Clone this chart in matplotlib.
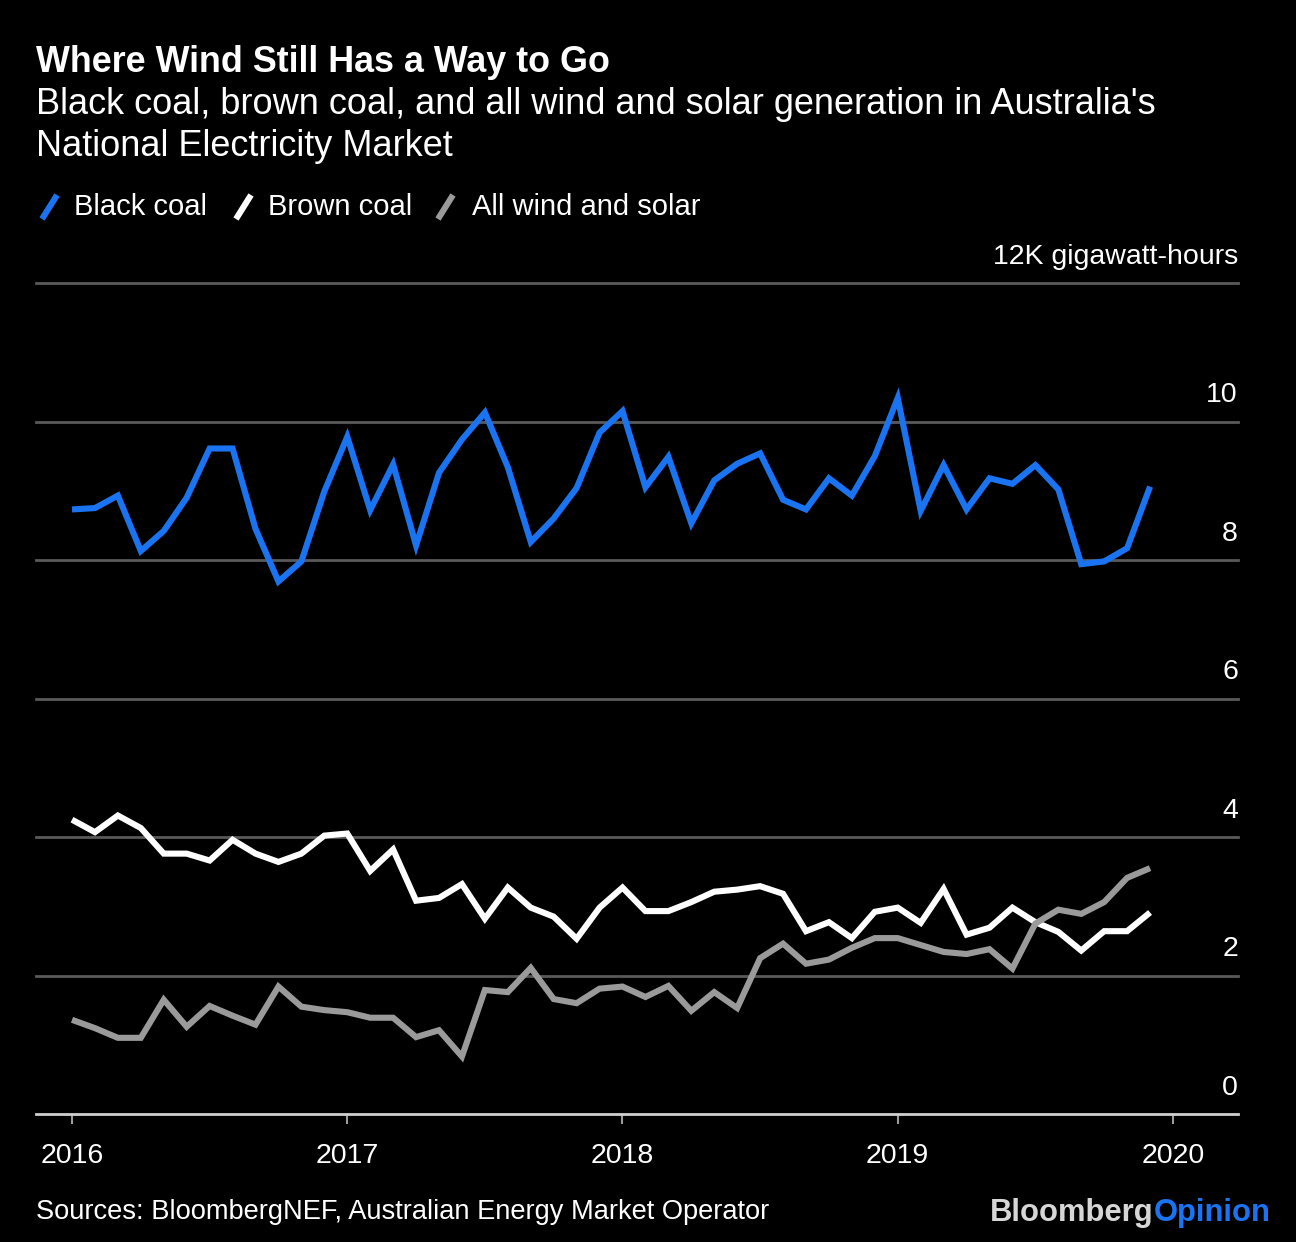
import numpy as np
import matplotlib
matplotlib.use("Agg")
import matplotlib.pyplot as plt
from matplotlib.lines import Line2D
from matplotlib import transforms

# canvas in pixels (dpi 100)
W, H = 1296, 1242

BLUE = "#1a74f2"
WHITE = "#ffffff"
GREY = "#9a9a9a"
GRID = "#595959"
BASE = "#cfcfcf"

plt.rcParams["font.family"] = ["Liberation Sans", "DejaVu Sans"]

# monthly generation, thousand GWh, Jan 2016 .. Dec 2019
START_YEAR = 2016
black_coal = [8.73, 8.75, 8.93, 8.13, 8.42, 8.90, 9.61, 9.61, 8.45, 7.69,
              7.98, 8.99, 9.78, 8.72, 9.38, 8.21, 9.26, 9.74, 10.13, 9.34,
              8.26, 8.60, 9.04, 9.84, 10.15, 9.05, 9.49, 8.53, 9.15, 9.39,
              9.54, 8.87, 8.73, 9.18, 8.93, 9.50, 10.34, 8.71, 9.37, 8.73,
              9.18, 9.10, 9.37, 9.02, 7.94, 7.98, 8.17, 9.06]
brown_coal = [4.25, 4.07, 4.31, 4.13, 3.76, 3.76, 3.66, 3.96, 3.76, 3.64,
              3.76, 4.02, 4.05, 3.51, 3.82, 3.08, 3.12, 3.32, 2.82, 3.27,
              2.98, 2.85, 2.53, 2.98, 3.27, 2.93, 2.93, 3.06, 3.21, 3.24,
              3.29, 3.18, 2.64, 2.77, 2.54, 2.92, 2.98, 2.76, 3.25, 2.59,
              2.69, 2.98, 2.77, 2.63, 2.36, 2.64, 2.64, 2.91]
wind_solar = [1.36, 1.24, 1.10, 1.10, 1.65, 1.26, 1.56, 1.42, 1.29, 1.84,
              1.55, 1.50, 1.47, 1.39, 1.39, 1.11, 1.21, 0.83, 1.79, 1.76,
              2.11, 1.66, 1.60, 1.81, 1.84, 1.69, 1.85, 1.49, 1.76, 1.53,
              2.25, 2.46, 2.17, 2.23, 2.40, 2.54, 2.54, 2.44, 2.34, 2.31,
              2.38, 2.10, 2.75, 2.95, 2.89, 3.06, 3.41, 3.55]

labels = ["Black coal", "Brown coal", "All wind and solar"]
colors = [BLUE, WHITE, GREY]
values = [black_coal, brown_coal, wind_solar]

x_ticks = [2016, 2017, 2018, 2019, 2020]
y_ticks = [0, 2, 4, 6, 8, 10, 12]
y_labels = ["0", "2", "4", "6", "8", "10", "12K gigawatt-hours"]


def fx(px):
    return px / W


def fy(py):
    return 1 - py / H


fig = plt.figure(figsize=(W / 100, H / 100), dpi=100, facecolor="black")
ax = fig.add_axes([fx(36), fy(1114), (1238 - 36) / W, (1114 - 283) / H])
ax.set_facecolor("black")

months = START_YEAR + np.arange(len(black_coal)) / 12

for v in y_ticks[1:]:
    ax.axhline(v, color=GRID, lw=2, zorder=1, clip_on=False)

for lab, vals, c in zip(labels, values, colors):
    ax.plot(months, vals, color=c, lw=4.4, solid_joinstyle="miter",
            solid_capstyle="butt", zorder=3, label=lab)

ax.set_xlim(2016 - 36 / 275.2, 2020 + 65 / 275.2)
ax.set_ylim(0, 12)

for s in ["top", "right", "left"]:
    ax.spines[s].set_visible(False)
ax.spines["bottom"].set_color(BASE)
ax.spines["bottom"].set_linewidth(2)

ax.set_xticks(x_ticks)
ax.set_xticklabels([str(t) for t in x_ticks])
ax.tick_params(axis="x", colors="#9a9a9a", labelcolor="white", length=7,
               width=1.5, labelsize=20.5, pad=14)
ax.set_yticks([])

# right-aligned value labels sitting on the gridlines
trans = transforms.offset_copy(
    transforms.blended_transform_factory(ax.transAxes, ax.transData),
    fig=fig, x=0, y=14, units="points")
for v, t in zip(y_ticks, y_labels):
    ax.text(1.0, v, t, transform=trans, ha="right", va="baseline",
            color="white", fontsize=20.5)

# title block
fig.text(fx(36), fy(62), "Where Wind Still Has a Way to Go", color="white",
         fontsize=25.8, weight="bold", va="center")
fig.text(fx(36), fy(104),
         "Black coal, brown coal, and all wind and solar generation in Australia's",
         color="white", fontsize=26, va="center")
fig.text(fx(36), fy(146), "National Electricity Market", color="white",
         fontsize=26, va="center")

# legend with slash swatches
slash_x = [42, 236, 438]
text_x = [74, 268, 472]
for sx, tx, lab, c in zip(slash_x, text_x, labels, colors):
    fig.add_artist(Line2D([fx(sx), fx(sx + 15)], [fy(219), fy(195)],
                          transform=fig.transFigure, color=c, lw=4.4,
                          solid_capstyle="butt"))
    fig.text(fx(tx), fy(207), lab, color="white", fontsize=21, va="center")

# footer
fig.text(fx(36), fy(1212),
         "Sources: BloombergNEF, Australian Energy Market Operator",
         color="white", fontsize=19.6, va="center")
fig.canvas.draw()
b = fig.text(fx(990), fy(1213), "Bloomberg", color="#d6d6d6", fontsize=22.3,
             weight="bold", va="center")
bb = b.get_window_extent(fig.canvas.get_renderer())
fig.text(bb.x1 / W, fy(1213), "Opinion", color=BLUE, fontsize=22.3,
         weight="bold", va="center")

fig.savefig("out.png", dpi=100, facecolor="black")
